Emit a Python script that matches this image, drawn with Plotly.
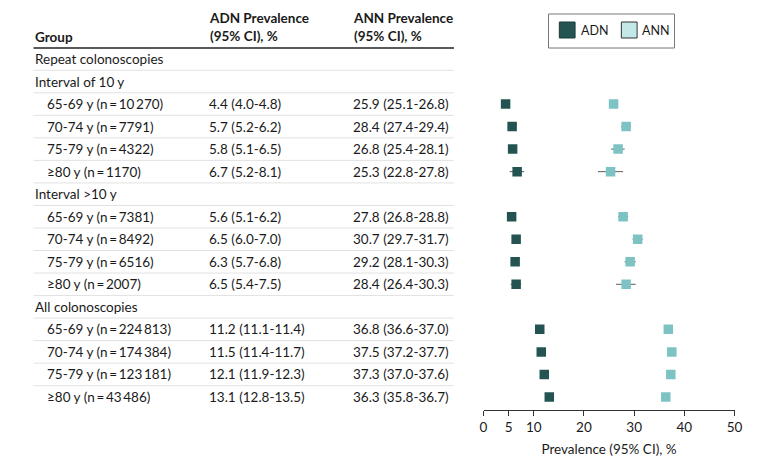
import plotly.graph_objects as go

# ---- data ----
row_labels = ["Repeat colonoscopies", "Interval of 10 y",
              "65-69 y (n\u2009=\u200910\u2009270)", "70-74 y (n\u2009=\u20097791)", "75-79 y (n\u2009=\u20094322)", "\u226580 y (n\u2009=\u20091170)",
              "Interval >10 y",
              "65-69 y (n\u2009=\u20097381)", "70-74 y (n\u2009=\u20098492)", "75-79 y (n\u2009=\u20096516)", "\u226580 y (n\u2009=\u20092007)",
              "All colonoscopies",
              "65-69 y (n\u2009=\u2009224\u2009813)", "70-74 y (n\u2009=\u2009174\u2009384)", "75-79 y (n\u2009=\u2009123\u2009181)", "\u226580 y (n\u2009=\u200943\u2009486)"]
is_header = [True, True, False, False, False, False, True, False, False, False, False, True, False, False, False, False]
adn = [None, None, 4.4, 5.7, 5.8, 6.7, None, 5.6, 6.5, 6.3, 6.5, None, 11.2, 11.5, 12.1, 13.1]
adn_lo = [None, None, 4.0, 5.2, 5.1, 5.2, None, 5.1, 6.0, 5.7, 5.4, None, 11.1, 11.4, 11.9, 12.8]
adn_hi = [None, None, 4.8, 6.2, 6.5, 8.1, None, 6.2, 7.0, 6.8, 7.5, None, 11.4, 11.7, 12.3, 13.5]
ann = [None, None, 25.9, 28.4, 26.8, 25.3, None, 27.8, 30.7, 29.2, 28.4, None, 36.8, 37.5, 37.3, 36.3]
ann_lo = [None, None, 25.1, 27.4, 25.4, 22.8, None, 26.8, 29.7, 28.1, 26.4, None, 36.6, 37.2, 37.0, 35.8]
ann_hi = [None, None, 26.8, 29.4, 28.1, 27.8, None, 28.8, 31.7, 30.3, 30.3, None, 37.0, 37.7, 37.6, 36.7]
x_ticks = [0, 5, 10, 20, 30, 40, 50]

FONT = "Lato"
FS = 13.5
TXT = "#1a1a1a"
DARK = "#245452"
LIGHT = "#7ec3c3"
LIGHT_LEG = "#c4e7e7"

fig = go.Figure()

def series(vals, lo, hi, color, name):
    idx = [i for i, v in enumerate(vals) if v is not None]
    xs = [vals[i] for i in idx]
    fig.add_trace(go.Scatter(
        x=xs, y=idx, mode="markers", name=name, showlegend=False,
        marker=dict(symbol="square", size=9.5, color=color, line=dict(width=0)),
        error_x=dict(type="data", symmetric=False,
                     array=[hi[i] - vals[i] for i in idx],
                     arrayminus=[vals[i] - lo[i] for i in idx],
                     color="#5a5a5a", thickness=1, width=0),
    ))

series(adn, adn_lo, adn_hi, DARK, "ADN")
series(ann, ann_lo, ann_hi, LIGHT, "ANN")

H = 467
y_px0, dy = 59, 22.53
y_bottom_px = 410
rng_top = -y_px0 / dy
rng_bot = (y_bottom_px - y_px0) / dy

def px(x): return x / 780
def py(y): return 1 - y / H

annotations = []
shapes = []
for i, lab in enumerate(row_labels):
    annotations.append(dict(x=px(29) if is_header[i] else px(42), y=i, xref="paper", yref="y",
                            text=lab, showarrow=False, xanchor="left", yanchor="middle",
                            font=dict(family=FONT, size=FS, color=TXT)))
    if adn[i] is not None:
        annotations.append(dict(x=px(206), y=i, xref="paper", yref="y",
                                text=f"{adn[i]:.1f} ({adn_lo[i]:.1f}-{adn_hi[i]:.1f})",
                                showarrow=False, xanchor="left", yanchor="middle",
                                font=dict(family=FONT, size=FS, color=TXT)))
        annotations.append(dict(x=px(352), y=i, xref="paper", yref="y",
                                text=f"{ann[i]:.1f} ({ann_lo[i]:.1f}-{ann_hi[i]:.1f})",
                                showarrow=False, xanchor="left", yanchor="middle",
                                font=dict(family=FONT, size=FS, color=TXT)))
    if i < len(row_labels) - 1:
        shapes.append(dict(type="line", xref="paper", yref="y", x0=px(30), x1=px(457),
                           y0=i + 0.5, y1=i + 0.5, line=dict(color="#e2e2e2", width=1)))

# header
hdr_font = dict(family=FONT, size=FS, color=TXT)
annotations += [
    dict(x=px(29), y=py(37), xref="paper", yref="paper", text="<b>Group</b>", showarrow=False,
         xanchor="left", yanchor="middle", font=hdr_font),
    dict(x=px(206), y=py(27), xref="paper", yref="paper", text="<b>ADN Prevalence</b><br><b>(95% CI), %</b>",
         showarrow=False, xanchor="left", yanchor="middle", align="left", font=hdr_font),
    dict(x=px(352), y=py(27), xref="paper", yref="paper", text="<b>ANN Prevalence</b><br><b>(95% CI), %</b>",
         showarrow=False, xanchor="left", yanchor="middle", align="left", font=hdr_font),
]
shapes.append(dict(type="line", xref="paper", yref="paper", x0=px(30), x1=px(457),
                   y0=py(48), y1=py(48), line=dict(color="#222222", width=1.5)))

# legend box (drawn)
shapes += [
    dict(type="rect", xref="paper", yref="paper", x0=px(553), x1=px(681), y0=py(48), y1=py(14),
         line=dict(color="#777777", width=1), fillcolor="white"),
    dict(type="rect", xref="paper", yref="paper", x0=px(564), x1=px(580), y0=py(38), y1=py(22),
         line=dict(color="#1a3a39", width=1), fillcolor=DARK),
    dict(type="rect", xref="paper", yref="paper", x0=px(627), x1=px(643), y0=py(38), y1=py(22),
         line=dict(color="#333333", width=1), fillcolor=LIGHT_LEG),
]
annotations += [
    dict(x=px(584), y=py(30), xref="paper", yref="paper", text="ADN", showarrow=False,
         xanchor="left", yanchor="middle", font=dict(family=FONT, size=12.5, color=TXT)),
    dict(x=px(646), y=py(30), xref="paper", yref="paper", text="ANN", showarrow=False,
         xanchor="left", yanchor="middle", font=dict(family=FONT, size=12.5, color=TXT)),
]

fig.update_layout(
    width=780, height=467, margin=dict(l=0, r=0, t=0, b=0),
    plot_bgcolor="white", paper_bgcolor="white",
    showlegend=False, hovermode=False,
    annotations=annotations, shapes=shapes,
    xaxis=dict(domain=[487/780, 742/780], range=[0, 50], tickvals=x_ticks,
               showgrid=False, zeroline=False, showline=True, linecolor="#333333", linewidth=1,
               ticks="outside", ticklen=5, tickcolor="#333333",
               tickfont=dict(family=FONT, size=FS, color=TXT),
               title=dict(text="Prevalence (95% CI), %", standoff=10,
                          font=dict(family=FONT, size=FS, color=TXT))),
    yaxis=dict(domain=[(H - y_bottom_px) / H, 1], range=[rng_bot, rng_top],
               showgrid=False, zeroline=False, showline=False, showticklabels=False, ticks=""),
)

fig.write_html("out.html", config={"displayModeBar": False, "staticPlot": True},
               post_script="document.body.style.margin='0';document.body.style.overflow='hidden';")
